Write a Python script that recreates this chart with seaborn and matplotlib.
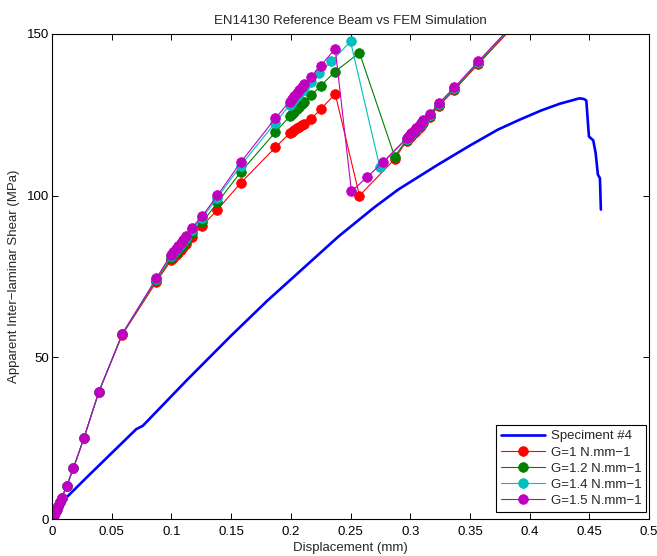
import numpy as np
import pandas as pd
import seaborn as sns
import matplotlib
matplotlib.use("Agg")
import matplotlib.pyplot as plt
from matplotlib.ticker import FuncFormatter

# experimental curve (specimen #4)
spec_x = [0, 0.0122, 0.03, 0.05, 0.0706, 0.076, 0.1136, 0.15, 0.18, 0.2094, 0.24, 0.27,
          0.29, 0.3233, 0.35, 0.3733, 0.3917, 0.4094, 0.425, 0.4417, 0.4455, 0.4475,
          0.4497, 0.4533, 0.4553, 0.4572, 0.4589, 0.4597]
spec_y = [0, 6.7, 13.2, 20.4, 27.8, 28.8, 43.2, 56.7, 67.4, 77.2, 87.4, 96.4,
          101.9, 109.6, 115.5, 120.4, 123.5, 126.3, 128.4, 130.1, 129.9, 129.4,
          118.3, 117.1, 113.2, 106.5, 105.4, 95.7]

# FEM simulations - loading branch
pre_x = [0, 0.0005, 0.001, 0.0015, 0.002, 0.003, 0.004, 0.005, 0.0065, 0.008, 0.0122,
         0.018, 0.0267, 0.0392, 0.0589, 0.0875, 0.0997, 0.1017, 0.1037, 0.1057, 0.1077,
         0.1097, 0.112, 0.117, 0.126, 0.1386, 0.158, 0.187, 0.199, 0.201, 0.203, 0.205,
         0.207, 0.209, 0.211, 0.217, 0.225, 0.2372]
low_y = [0, 0.4, 0.8, 1.2, 1.6, 2.4, 3.2, 4.0, 5.2, 6.5, 10.1, 15.8, 25.0, 39.3]

g10_pre = low_y + [57.0, 73.4, 80.0, 80.8, 81.6, 82.4, 83.2, 84.0, 84.9, 87.3, 90.7, 95.7,
                   103.9, 114.9, 119.3, 119.8, 120.3, 120.8, 121.3, 121.8, 122.3, 123.8,
                   126.7, 131.5]
g12_pre = low_y + [57.2, 74.0, 80.6, 81.5, 82.4, 83.2, 84.1, 85.0, 86.1, 88.5, 91.8, 97.9,
                   107.3, 119.6, 124.5, 125.3, 126.0, 126.8, 127.5, 128.3, 129.1, 131.0,
                   134.0, 138.4]
g14_pre_x = pre_x[:-3] + [0.217, 0.2235, 0.234]
g14_pre = low_y + [57.3, 74.3, 81.4, 82.3, 83.2, 84.1, 85.0, 85.9, 87.0, 89.5, 93.2, 99.4,
                   109.3, 122.6, 128.0, 128.9, 129.8, 130.7, 131.6, 132.5, 133.3, 135.3,
                   137.9, 141.5]
g15_pre = low_y + [57.3, 74.5, 81.8, 82.7, 83.6, 84.5, 85.4, 86.3, 87.4, 90.0, 93.8, 100.1,
                   110.3, 123.9, 129.1, 130.0, 130.9, 131.8, 132.7, 133.6, 134.5, 136.8,
                   140.2, 145.4]

# peak / drop / reloading branch
post_x = [0.297, 0.299, 0.301, 0.303, 0.305, 0.307, 0.309, 0.311, 0.3164, 0.324, 0.337,
          0.357, 0.40]
g10_post_x = [0.2575, 0.287] + post_x
g10_post = [100.0, 111.3, 117.0, 117.8, 118.5, 119.3, 120.1, 120.9, 121.7, 122.5, 124.4,
            127.8, 132.7, 140.7, 157.7]
g12_post_x = [0.2575, 0.287] + post_x
g12_post = [144.2, 112.1, 117.3, 118.1, 118.8, 119.6, 120.4, 121.2, 122.0, 122.8, 124.7,
            128.1, 133.0, 141.0, 158.0]
g14_post_x = [0.25, 0.2744] + post_x
g14_post = [147.7, 109.0, 117.6, 118.4, 119.1, 119.9, 120.7, 121.5, 122.3, 123.1, 125.0,
            128.4, 133.3, 141.3, 158.3]
g15_post_x = [0.2508, 0.264, 0.277] + post_x
g15_post = [101.3, 105.8, 110.3, 117.8, 118.6, 119.3, 120.1, 120.9, 121.7, 122.5, 123.3,
            125.2, 128.6, 133.5, 141.5, 158.5]

series = [
    ("G=1 N.mm\u22121", pre_x + g10_post_x, g10_pre + g10_post, "#ff0000"),
    ("G=1.2 N.mm\u22121", pre_x + g12_post_x, g12_pre + g12_post, "#008000"),
    ("G=1.4 N.mm\u22121", g14_pre_x + g14_post_x, g14_pre + g14_post, "#00bfbf"),
    ("G=1.5 N.mm\u22121", pre_x + g15_post_x, g15_pre + g15_post, "#bf00bf"),
]

sns.set_style("ticks")
plt.rcParams['font.family'] = ['Liberation Sans', 'DejaVu Sans']
plt.rcParams['font.size'] = 9.5

fig = plt.figure(figsize=(6.57, 5.56), dpi=100)
ax = fig.add_axes([52 / 657, 37 / 556, 597 / 657, 485 / 556])

sns.lineplot(x=spec_x, y=spec_y, ax=ax, color="#0000ff", linewidth=1.9, sort=False,
             estimator=None, label="Speciment #4")
for name, xs, ys, col in series:
    df = pd.DataFrame({"x": xs, "y": ys})
    sns.lineplot(data=df, x="x", y="y", ax=ax, color=col, linewidth=0.8, marker="o",
                 markersize=7, markeredgecolor=col, markeredgewidth=0.5, sort=False,
                 estimator=None, label=name)

ax.set_xlim(0, 0.5)
ax.set_ylim(0, 150)
ax.set_xticks(np.arange(0, 0.501, 0.05))
ax.set_yticks([0, 50, 100, 150])
ax.xaxis.set_major_formatter(FuncFormatter(lambda v, p: "%g" % round(v, 3)))
ax.tick_params(direction="in", length=4, width=0.7, top=True, right=True, colors="black")
ax.tick_params(axis="x", pad=5)
ax.tick_params(axis="y", pad=2)
for s in ax.spines.values():
    s.set_visible(True)
    s.set_linewidth(0.8)
    s.set_color("black")

ax.set_title("EN14130 Reference Beam vs FEM Simulation", pad=7, fontsize=9.5)
ax.set_xlabel("Displacement (mm)", labelpad=3)
ax.set_ylabel("Apparent Inter\u2212laminar Shear (MPa)", labelpad=5)

leg = ax.legend(loc="lower right", bbox_to_anchor=(0.995, 0.015), fancybox=False,
                framealpha=1, edgecolor="black", handlelength=3.4, handletextpad=0.4,
                labelspacing=0.3, borderpad=0.35, borderaxespad=0.0, fontsize=9.5)
leg.get_frame().set_linewidth(0.8)

fig.savefig("out.png", dpi=100)
